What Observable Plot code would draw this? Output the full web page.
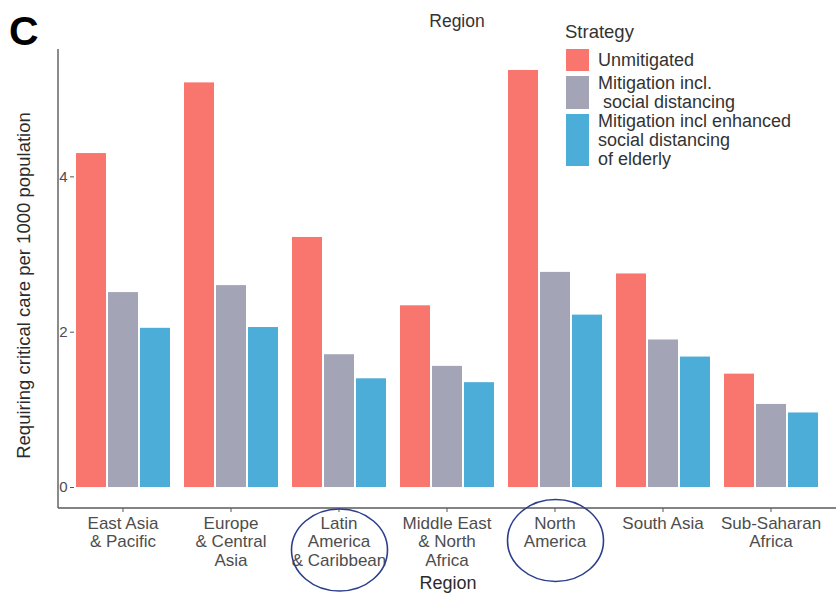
<!DOCTYPE html>
<html>
<head>
<meta charset="utf-8">
<script src="https://cdn.jsdelivr.net/npm/d3@7"></script>
<script src="https://cdn.jsdelivr.net/npm/@observablehq/plot@0.6"></script>
<style>
  body { margin: 0; background: #fff; }
  #chart svg { display: block; }
</style>
</head>
<body>
<div id="chart"></div>
<script>
// Regions (facets) and their wrapped axis labels
const regions = [
  "East Asia & Pacific",
  "Europe & Central Asia",
  "Latin America & Caribbean",
  "Middle East & North Africa",
  "North America",
  "South Asia",
  "Sub-Saharan Africa"
];
const regionLabels = [
  "East Asia\n& Pacific",
  "Europe\n& Central\nAsia",
  "Latin\nAmerica\n& Caribbean",
  "Middle East\n& North\nAfrica",
  "North\nAmerica",
  "South Asia",
  "Sub-Saharan\nAfrica"
];

// Strategies and legend wording
const strategies = ["Unmitigated", "Mitigation incl. social distancing", "Mitigation incl enhanced social distancing of elderly"];
const strategyLegendLines = [
  ["Unmitigated"],
  ["Mitigation incl.", " social distancing"],
  ["Mitigation incl enhanced", "social distancing", "of elderly"]
];
const strategyColors = ["#f8766d", "#a3a5b6", "#4cadd8"];

// Requiring critical care per 1000 population, by region
const unmitigated = [4.30, 5.21, 3.22, 2.34, 5.37, 2.75, 1.46];
const socialDistancing = [2.51, 2.60, 1.71, 1.56, 2.77, 1.90, 1.07];
const enhancedDistancing = [2.05, 2.06, 1.40, 1.35, 2.22, 1.68, 0.96];

const yTicks = [0, 2, 4];
const yDomain = [-0.27, 5.64];
const circledRegions = ["Latin America & Caribbean", "North America"];

const yTitle = "Requiring critical care per 1000 population";
const xTitle = "Region";
const panelTag = "C";
const topTitle = "Region";
const legendTitle = "Strategy";

const series = [unmitigated, socialDistancing, enhancedDistancing];
const rows = regions.flatMap((r, i) =>
  strategies.map((s, j) => ({region: r, strategy: s, value: series[j][i]}))
);

const W = 836, H = 593;
const M = {top: 49, right: 0, bottom: 85, left: 58};
const FONT = "Arial, 'Liberation Sans', Helvetica, sans-serif";

const plot = Plot.plot({
  width: W,
  height: H,
  marginTop: M.top,
  marginRight: M.right,
  marginBottom: M.bottom,
  marginLeft: M.left,
  style: {fontFamily: FONT, color: "#4d4d4d", background: "white", overflow: "visible"},
  fx: {domain: regions, paddingInner: 0.1, paddingOuter: 0.15, label: null},
  x: {domain: strategies, padding: 0, axis: null},
  y: {domain: yDomain},
  color: {domain: strategies, range: strategyColors},
  marks: [
    Plot.barY(rows, {
      fx: "region", x: "strategy", y: "value", fill: "strategy",
      insetLeft: 1, insetRight: 1
    }),
    Plot.axisY({ticks: yTicks, tickFormat: d => String(d), tickSize: 4, tickPadding: 3, fontSize: 15, label: null, stroke: "#555"}),
    Plot.axisFx({
      anchor: "bottom",
      tickFormat: d => regionLabels[regions.indexOf(d)],
      tickSize: 4, tickPadding: 3, fontSize: 17, lineHeight: 1.1,
      label: null, stroke: "#555"
    })
  ]
});

document.getElementById("chart").appendChild(plot);

const svg = d3.select(plot);
const baseY = H - M.bottom;

// Axis lines (theme_classic style)
svg.append("line")
  .attr("x1", M.left).attr("x2", M.left)
  .attr("y1", M.top).attr("y2", baseY)
  .attr("stroke", "#5a5a5a").attr("stroke-width", 1.4);
svg.append("line")
  .attr("x1", M.left).attr("x2", W)
  .attr("y1", baseY).attr("y2", baseY)
  .attr("stroke", "#5a5a5a").attr("stroke-width", 1.4);

// Titles
svg.append("text")
  .attr("transform", `translate(30,${(M.top + baseY) / 2 + 7}) rotate(-90)`)
  .attr("text-anchor", "middle")
  .attr("font-family", FONT).attr("font-size", 18.5).attr("fill", "#2b2b2b")
  .text(yTitle);
svg.append("text")
  .attr("x", (M.left + W + 2) / 2).attr("y", 589)
  .attr("text-anchor", "middle")
  .attr("font-family", FONT).attr("font-size", 18).attr("fill", "#2b2b2b")
  .text(xTitle);
svg.append("text")
  .attr("x", 9).attr("y", 45)
  .attr("text-anchor", "start")
  .attr("font-family", FONT).attr("font-size", 41).attr("font-weight", "bold").attr("fill", "#000")
  .text(panelTag);
svg.append("text")
  .attr("x", 457).attr("y", 26.5)
  .attr("text-anchor", "middle")
  .attr("font-family", FONT).attr("font-size", 17.5).attr("fill", "#333")
  .text(topTitle);

// Legend
const lg = svg.append("g").attr("text-anchor", "start");
lg.append("text")
  .attr("x", 565).attr("y", 38)
  .attr("text-anchor", "start")
  .attr("font-family", FONT).attr("font-size", 18.5).attr("fill", "#333")
  .text(legendTitle);
let rowTop = 46.5;
strategyLegendLines.forEach((lines, i) => {
  const h = Math.max(27, lines.length * 19);
  lg.append("rect")
    .attr("x", 566).attr("y", rowTop + 2.5)
    .attr("width", 23).attr("height", h - 5)
    .attr("fill", strategyColors[i]);
  const mid = rowTop + h / 2;
  lines.forEach((line, k) => {
    lg.append("text")
      .attr("x", 598)
      .attr("y", mid + (k - (lines.length - 1) / 2) * 19 + 6)
      .attr("text-anchor", "start")
      .attr("font-family", FONT).attr("font-size", 18).attr("fill", "#333")
      .style("white-space", "pre")
      .text(line);
  });
  rowTop += h;
});

// Hand-drawn style ellipses around highlighted region labels
let fx = plot.scale && plot.scale("fx");
let fxApply, bw;
if (fx && fx.apply) {
  fxApply = fx.apply; bw = fx.bandwidth;
} else {
  const s = d3.scaleBand(regions, [M.left, W - M.right]).paddingInner(0.1).paddingOuter(0.15);
  fxApply = s; bw = s.bandwidth();
}
circledRegions.forEach(r => {
  const n = regionLabels[regions.indexOf(r)].split("\n").length;
  const labelMid = baseY + 15 + (n - 1) * 19 / 2;
  svg.append("ellipse")
    .attr("cx", fxApply(r) + bw / 2 + 1)
    .attr("cy", labelMid + 8)
    .attr("rx", 48).attr("ry", 41)
    .attr("fill", "none")
    .attr("stroke", "#2c3d8c").attr("stroke-width", 1.6);
});
</script>
</body>
</html>
